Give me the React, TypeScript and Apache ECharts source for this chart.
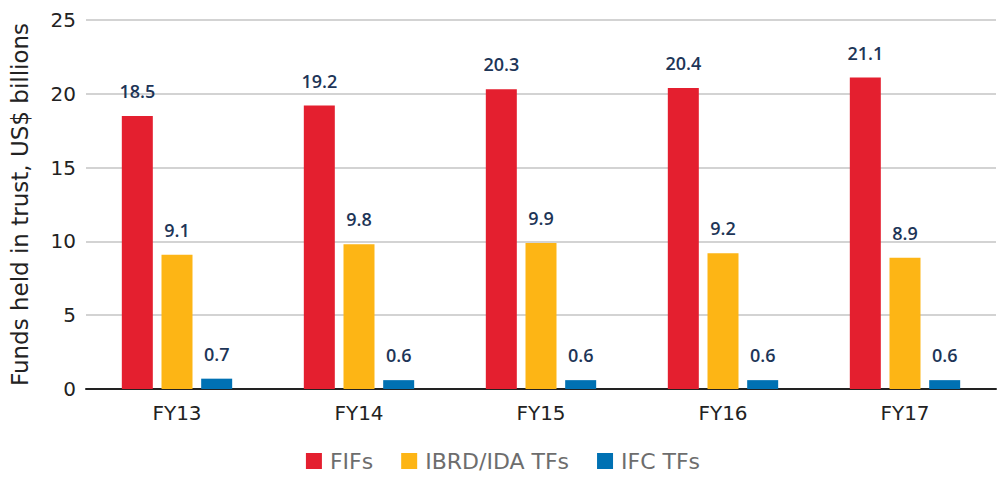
import React, { useEffect, useRef } from "react";
import * as echarts from "echarts";

const categories = ["FY13", "FY14", "FY15", "FY16", "FY17"];
const fifs = [18.5, 19.2, 20.3, 20.4, 21.1];
const ibrdIda = [9.1, 9.8, 9.9, 9.2, 8.9];
const ifc = [0.7, 0.6, 0.6, 0.6, 0.6];
const seriesNames = ["FIFs", "IBRD/IDA TFs", "IFC TFs"];
const colors = ["#e41f2f", "#fdb515", "#0071b3"];

const WIDE = "'DejaVu Sans', 'Noto Sans', sans-serif";
const NUM = "'Open Sans', 'Noto Sans', sans-serif";

export default function App() {
  const ref = useRef<HTMLDivElement>(null);
  useEffect(() => {
    if (!ref.current) return;
    const chart = echarts.init(ref.current, undefined, { renderer: "svg" });
    const label = {
      show: true,
      position: "top",
      distance: 16,
      color: "#1d3557",
      fontSize: 18,
      fontWeight: 600,
      fontFamily: NUM,
    };
    const mk = (name: string, data: number[], color: string) => ({
      name,
      type: "bar",
      data,
      barWidth: 31,
      barGap: "28%",
      itemStyle: { color },
      label,
    });
    chart.setOption({
      animation: false,
      grid: { left: 82, right: 10, top: 20, bottom: 94 },
      legend: {
        bottom: 6,
        left: "center",
        itemWidth: 16,
        itemHeight: 16,
        itemGap: 28,
        icon: "rect",
        textStyle: { color: "#6d6d6d", fontSize: 22, fontFamily: WIDE, padding: [0, 0, 0, 3] },
        data: seriesNames,
      },
      xAxis: {
        type: "category",
        data: categories,
        axisLine: { lineStyle: { color: "#222", width: 2 } },
        axisTick: { show: false },
        axisLabel: { color: "#222", fontSize: 20, fontFamily: WIDE, margin: 14 },
      },
      yAxis: {
        type: "value",
        min: 0,
        max: 25,
        interval: 5,
        name: "Funds held in trust, US$ billions",
        nameLocation: "middle",
        nameGap: 55,
        nameTextStyle: { color: "#222", fontSize: 23, fontFamily: WIDE },
        axisLine: { show: false },
        axisTick: { show: false },
        axisLabel: { color: "#222", fontSize: 20, fontFamily: WIDE, margin: 10 },
        splitLine: { lineStyle: { color: "#c4c4c4", width: 1.5 } },
      },
      series: [
        mk(seriesNames[0], fifs, colors[0]),
        mk(seriesNames[1], ibrdIda, colors[1]),
        mk(seriesNames[2], ifc, colors[2]),
      ],
    });
    return () => chart.dispose();
  }, []);
  return <div ref={ref} style={{ width: 1006, height: 483, position: "absolute", left: 0, top: 0 }} />;
}
